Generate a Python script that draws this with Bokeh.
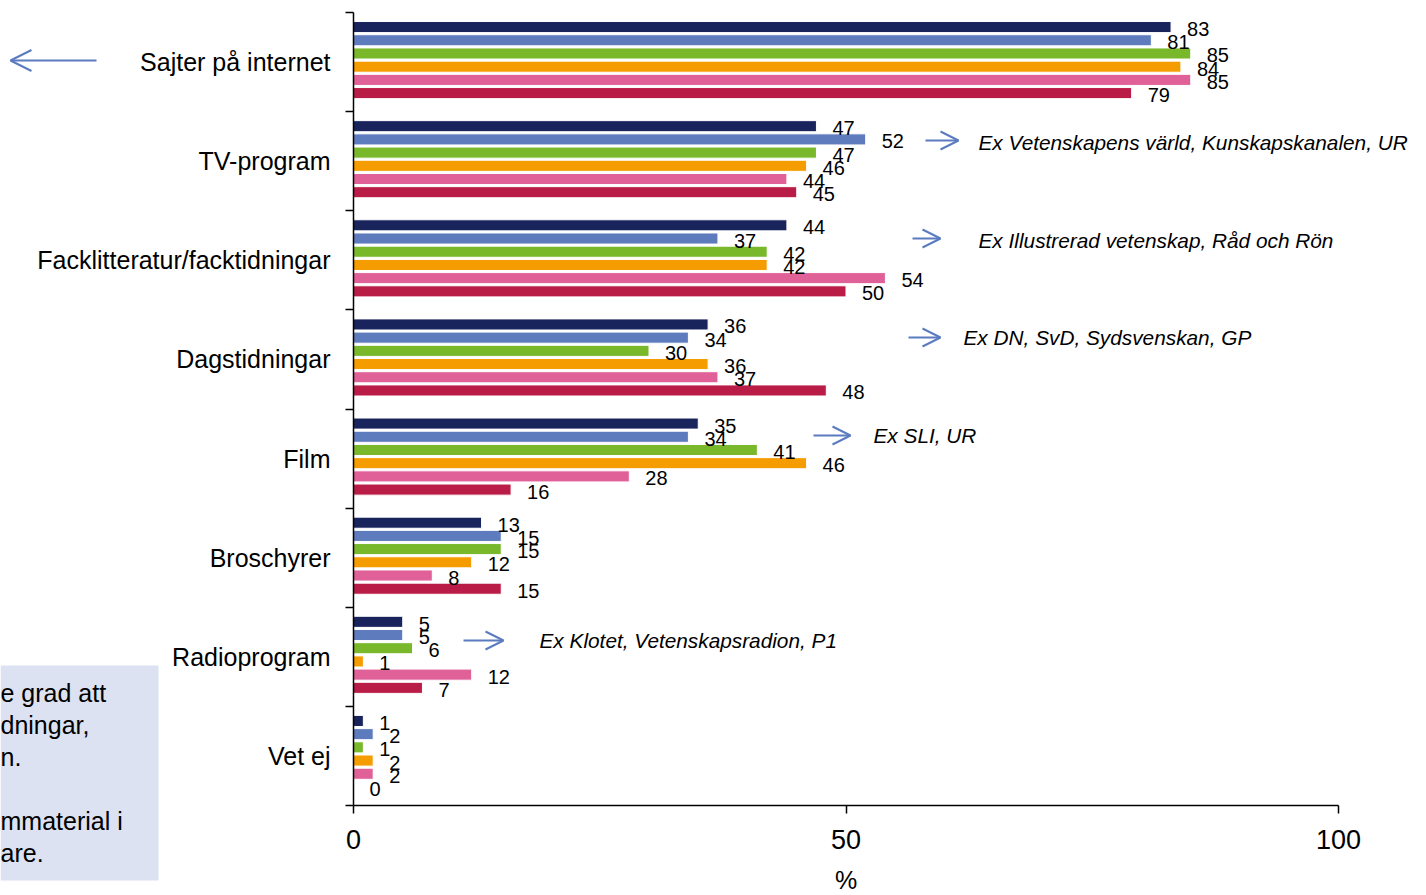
from bokeh.plotting import figure
from bokeh.models import Range1d, FixedTicker, Label, Arrow, OpenHead, BoxAnnotation, ColumnDataSource
from bokeh.core.properties import value
from bokeh.embed import file_html
from bokeh.resources import INLINE

# ---------------- data ----------------
categories = ["Sajter på internet", "TV-program", "Facklitteratur/facktidningar",
              "Dagstidningar", "Film", "Broschyrer", "Radioprogram", "Vet ej"]
series_1 = [83, 47, 44, 36, 35, 13, 5, 1]
series_2 = [81, 52, 37, 34, 34, 15, 5, 2]
series_3 = [85, 47, 42, 30, 41, 15, 6, 1]
series_4 = [84, 46, 42, 36, 46, 12, 1, 2]
series_5 = [85, 44, 54, 37, 28, 8, 12, 2]
series_6 = [79, 45, 50, 48, 16, 15, 7, 0]
x_ticks = [0, 50, 100]
x_title = "%"

examples_text = ["Ex Vetenskapens värld, Kunskapskanalen, UR",
                 "Ex Illustrerad vetenskap, Råd och Rön",
                 "Ex DN, SvD, Sydsvenskan, GP",
                 "Ex SLI, UR",
                 "Ex Klotet, Vetenskapsradion, P1"]
box_lines = ["e grad att", "dningar,", "n.", "", "mmaterial i", "are."]

all_series = [series_1, series_2, series_3, series_4, series_5, series_6]
colors = ["#1A245C", "#5E7BBD", "#78B82A", "#F59C00", "#E06098", "#BA1C48"]

FONT = "Liberation Sans"
ARROW_COLOR = "#5B7BC0"

W, H = 1426, 895
# plot area in canvas pixels: x 0..100 -> 353..1338, categories -> 12..805
FX0, FX1, FY0, FY1 = 353, 1338, 12, 805
n = len(categories)
xpp = 100 / (FX1 - FX0)          # data units per pixel (x)
ypp = n / (FY1 - FY0)            # data units per pixel (y)

def dx(px):
    return (px - FX0) * xpp

def dy(py):
    return -0.5 + (py - FY0) * ypp

p = figure(width=W, height=H,
           x_range=Range1d(dx(0), dx(W)), y_range=Range1d(dy(H), dy(0)),
           output_backend="svg", toolbar_location=None, min_border=0)
p.outline_line_color = None
p.xgrid.visible = False
p.ygrid.visible = False
p.background_fill_color = "white"
p.border_fill_color = "white"

pitch = 0.1332
bar_h = 0.112
shift = -0.02
sources = []
for j, (vals, col) in enumerate(zip(all_series, colors)):
    ys = [k + (j - 2.5) * pitch + shift for k in range(n)]
    src = ColumnDataSource(dict(y=ys, v=vals, lab=[str(v) for v in vals]))
    sources.append(src)
    p.hbar(y="y", left=0, right="v", height=bar_h, source=src,
           fill_color=col, line_color="white", line_width=1)

# value labels drawn after all bars so they sit on top
for src in sources:
    p.text(x="v", y="y", text="lab", source=src, x_offset=16, y_offset=2,
           text_baseline="middle", text_align="left",
           text_font=value(FONT), text_font_size="20px", text_color="black")

# axes drawn at fixed data locations
p.xaxis.fixed_location = n - 0.5
p.xaxis.bounds = (0, 100)
p.xaxis.ticker = FixedTicker(ticks=x_ticks)
p.xaxis.major_tick_out = 8
p.xaxis.major_tick_in = 0
p.xaxis.minor_tick_out = 0
p.xaxis.major_label_text_font = FONT
p.xaxis.major_label_text_font_size = "27px"
p.xaxis.major_label_text_color = "black"
p.xaxis.major_label_standoff = 16
p.xaxis.axis_label = x_title
p.xaxis.axis_label_text_font = FONT
p.xaxis.axis_label_text_font_style = "normal"
p.xaxis.axis_label_text_font_size = "25px"
p.xaxis.axis_label_text_color = "black"
p.xaxis.axis_label_standoff = 14
p.xaxis.axis_line_width = 1.5
p.xaxis.axis_line_color = "black"
p.xaxis.major_tick_line_color = "black"
p.xaxis.major_tick_line_width = 1.5

p.yaxis.fixed_location = 0
p.yaxis.bounds = (-0.5, n - 0.5)
p.yaxis.ticker = FixedTicker(ticks=list(range(n)), minor_ticks=[k - 0.5 for k in range(n + 1)])
p.yaxis.major_label_overrides = {k: c for k, c in enumerate(categories)}
p.yaxis.major_tick_out = 0
p.yaxis.major_tick_in = 0
p.yaxis.minor_tick_out = 8
p.yaxis.minor_tick_in = 0
p.yaxis.minor_tick_line_color = "black"
p.yaxis.minor_tick_line_width = 1.5
p.yaxis.major_label_standoff = 15
p.yaxis.major_label_text_font = FONT
p.yaxis.major_label_text_font_size = "25px"
p.yaxis.major_label_text_color = "black"
p.yaxis.axis_line_width = 1.5
p.yaxis.axis_line_color = "black"

# example annotations with arrows (canvas-pixel positions)
arrow_px = [(925, 958, 140), (912, 940, 238), (908, 940, 337), (813, 850, 435), (463, 503, 640)]
text_px = [(978, 142), (978, 240), (963, 337), (873, 435), (539, 640)]
for (x0, x1, ya), (tx, ty), txt in zip(arrow_px, text_px, examples_text):
    p.add_layout(Arrow(x_start=dx(x0), y_start=dy(ya), x_end=dx(x1), y_end=dy(ya),
                       line_color=ARROW_COLOR, line_width=2,
                       end=OpenHead(size=18, line_color=ARROW_COLOR, line_width=2)))
    p.add_layout(Label(x=dx(tx), y=dy(ty), text=txt, text_font=FONT,
                       text_font_size="20.8px", text_font_style="italic",
                       text_baseline="middle", text_align="left", text_color="black"))

# left arrow next to first category
p.add_layout(Arrow(x_start=dx(96), y_start=dy(60), x_end=dx(10), y_end=dy(60),
                   line_color=ARROW_COLOR, line_width=2,
                   end=OpenHead(size=21, line_color=ARROW_COLOR, line_width=2)))

# cropped text box at lower left
p.add_layout(BoxAnnotation(left=dx(0), right=dx(158), top=dy(665), bottom=dy(880),
                           fill_color="#DCE2F1", fill_alpha=1, line_color=None, level="underlay"))
for i, line in enumerate(box_lines):
    if line:
        p.add_layout(Label(x=dx(0), y=dy(692 + 32 * i), text=line, text_font=FONT,
                           text_font_size="25px", text_baseline="middle",
                           text_align="left", text_color="black"))

open("out.html", "w").write(file_html(p, INLINE))
